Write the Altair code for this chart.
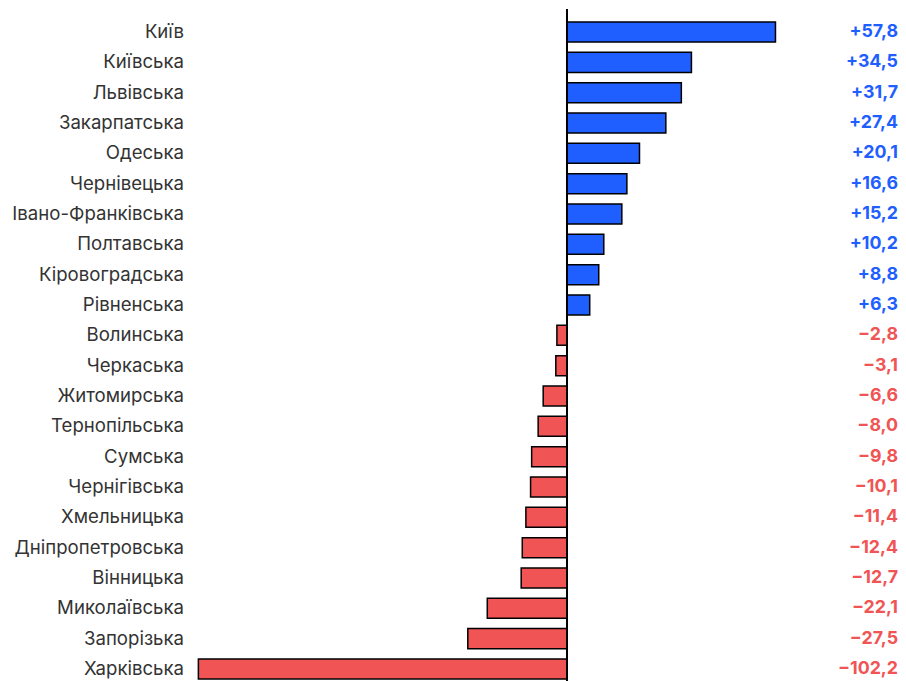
import altair as alt
import pandas as pd

regions = ["Київ", "Київська", "Львівська", "Закарпатська", "Одеська", "Чернівецька",
           "Івано-Франківська", "Полтавська", "Кіровоградська", "Рівненська", "Волинська",
           "Черкаська", "Житомирська", "Тернопільська", "Сумська", "Чернігівська",
           "Хмельницька", "Дніпропетровська", "Вінницька", "Миколаївська", "Запорізька",
           "Харківська"]
values = [57.8, 34.5, 31.7, 27.4, 20.1, 16.6, 15.2, 10.2, 8.8, 6.3, -2.8, -3.1, -6.6,
          -8.0, -9.8, -10.1, -11.4, -12.4, -12.7, -22.1, -27.5, -102.2]

def fmt(v):
    s = f"{abs(v):.1f}".replace(".", ",")
    return ("+" if v > 0 else "\u2212") + s

df = pd.DataFrame({
    "region": regions,
    "value": values,
    "label": [fmt(v) for v in values],
    "sign": ["pos" if v > 0 else "neg" for v in values],
})

W, H = 890, 683
xscale = alt.Scale(domain=[-154.98, 91.77], nice=False, zero=False)
yscale = alt.Scale(domain=regions, paddingInner=0.34, paddingOuter=0.43)
color = alt.Color("sign:N", scale=alt.Scale(domain=["pos", "neg"], range=["#1f5eff", "#f05454"]), legend=None)

base = alt.Chart(df)

bars = base.mark_bar(stroke="black", strokeWidth=1.5).encode(
    x=alt.X("value:Q", scale=xscale, axis=None),
    x2=alt.datum(0),
    y=alt.Y("region:N", scale=yscale, axis=None, sort=regions),
    color=color,
)

zero = alt.Chart(pd.DataFrame({"z": [0]})).mark_rule(color="black", strokeWidth=2).encode(
    x=alt.X("z:Q", scale=xscale, axis=None),
)

names = base.mark_text(align="right", baseline="middle", font="Inter", fontSize=18.6,
                       color="#333333").encode(
    y=alt.Y("region:N", scale=yscale, axis=None, sort=regions),
    x=alt.value(176),
    text="region:N",
)

vals = base.mark_text(align="right", baseline="middle", font="Inter", fontSize=17.8,
                      fontWeight="bold").encode(
    y=alt.Y("region:N", scale=yscale, axis=None, sort=regions),
    x=alt.value(W),
    text="label:N",
    color=color,
)

chart = alt.layer(bars, zero, names, vals).properties(
    width=W, height=H, padding=0
).configure_view(stroke=None)

chart.save("out.html", embed_options={"renderer": "svg", "actions": False})
